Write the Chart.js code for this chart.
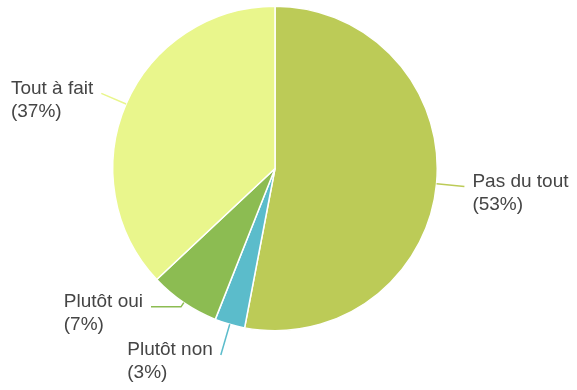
<!DOCTYPE html>
<html lang="fr">
<head>
<meta charset="utf-8">
<script src="https://cdn.jsdelivr.net/npm/chart.js@4"></script>
<style>
  html, body { margin: 0; padding: 0; background: #fff; }
  #camembert { display: block; }
</style>
</head>
<body>
<canvas id="camembert" width="577" height="390"></canvas>
<script>
const reponses = ['Pas du tout', 'Plutôt non', 'Plutôt oui', 'Tout à fait'];
const pourcentages = [53, 3, 7, 37];
const couleurs = ['#bccb57', '#5bbccb', '#8cbc52', '#e9f68c'];

// longueur du trait radial puis du trait horizontal pour chaque étiquette
const traitRadial = [28, 32, 5, 27];
const traitPlat = [0, 0, 30, 0];

const etiquettes = {
    id: 'etiquettes',
    afterDatasetsDraw(chart) {
        const ctx = chart.ctx;
        const arcs = chart.getDatasetMeta(0).data;
        ctx.save();
        ctx.font = '19px "Liberation Sans", Arial, sans-serif';
        ctx.textBaseline = 'middle';
        arcs.forEach((arc, i) => {
            const { x, y, startAngle, endAngle, outerRadius } = arc.getProps(['x', 'y', 'startAngle', 'endAngle', 'outerRadius'], true);
            const milieu = (startAngle + endAngle) / 2;
            const cos = Math.cos(milieu), sin = Math.sin(milieu);
            const x0 = x + cos * outerRadius, y0 = y + sin * outerRadius;
            const x1 = x + cos * (outerRadius + traitRadial[i]), y1 = y + sin * (outerRadius + traitRadial[i]);
            const droite = cos >= 0;
            const x2 = x1 + (droite ? traitPlat[i] : -traitPlat[i]);

            ctx.strokeStyle = couleurs[i];
            ctx.lineWidth = 1.5;
            ctx.beginPath();
            ctx.moveTo(x0, y0);
            ctx.lineTo(x1, y1);
            ctx.lineTo(x2, y1);
            ctx.stroke();

            const lignes = [reponses[i], '(' + pourcentages[i] + '%)'];
            const largeur = Math.max(...lignes.map(l => ctx.measureText(l).width));
            const gauche = droite ? x2 + 8 : x2 - 8 - largeur;
            ctx.fillStyle = '#454545';
            ctx.textAlign = 'left';
            lignes.forEach((l, k) => ctx.fillText(l, gauche, y1 - 5 + k * 23));
        });
        ctx.restore();
    }
};

new Chart(document.getElementById('camembert'), {
    type: 'pie',
    data: {
        labels: reponses,
        datasets: [{
            data: pourcentages,
            backgroundColor: couleurs,
            borderColor: '#ffffff',
            borderWidth: 1.5
        }]
    },
    options: {
        responsive: false,
        animation: false,
        layout: { padding: { left: 112, right: 139, top: 5, bottom: 58 } },
        plugins: {
            legend: { display: false },
            tooltip: { enabled: false }
        }
    },
    plugins: [etiquettes]
});
</script>
</body>
</html>
